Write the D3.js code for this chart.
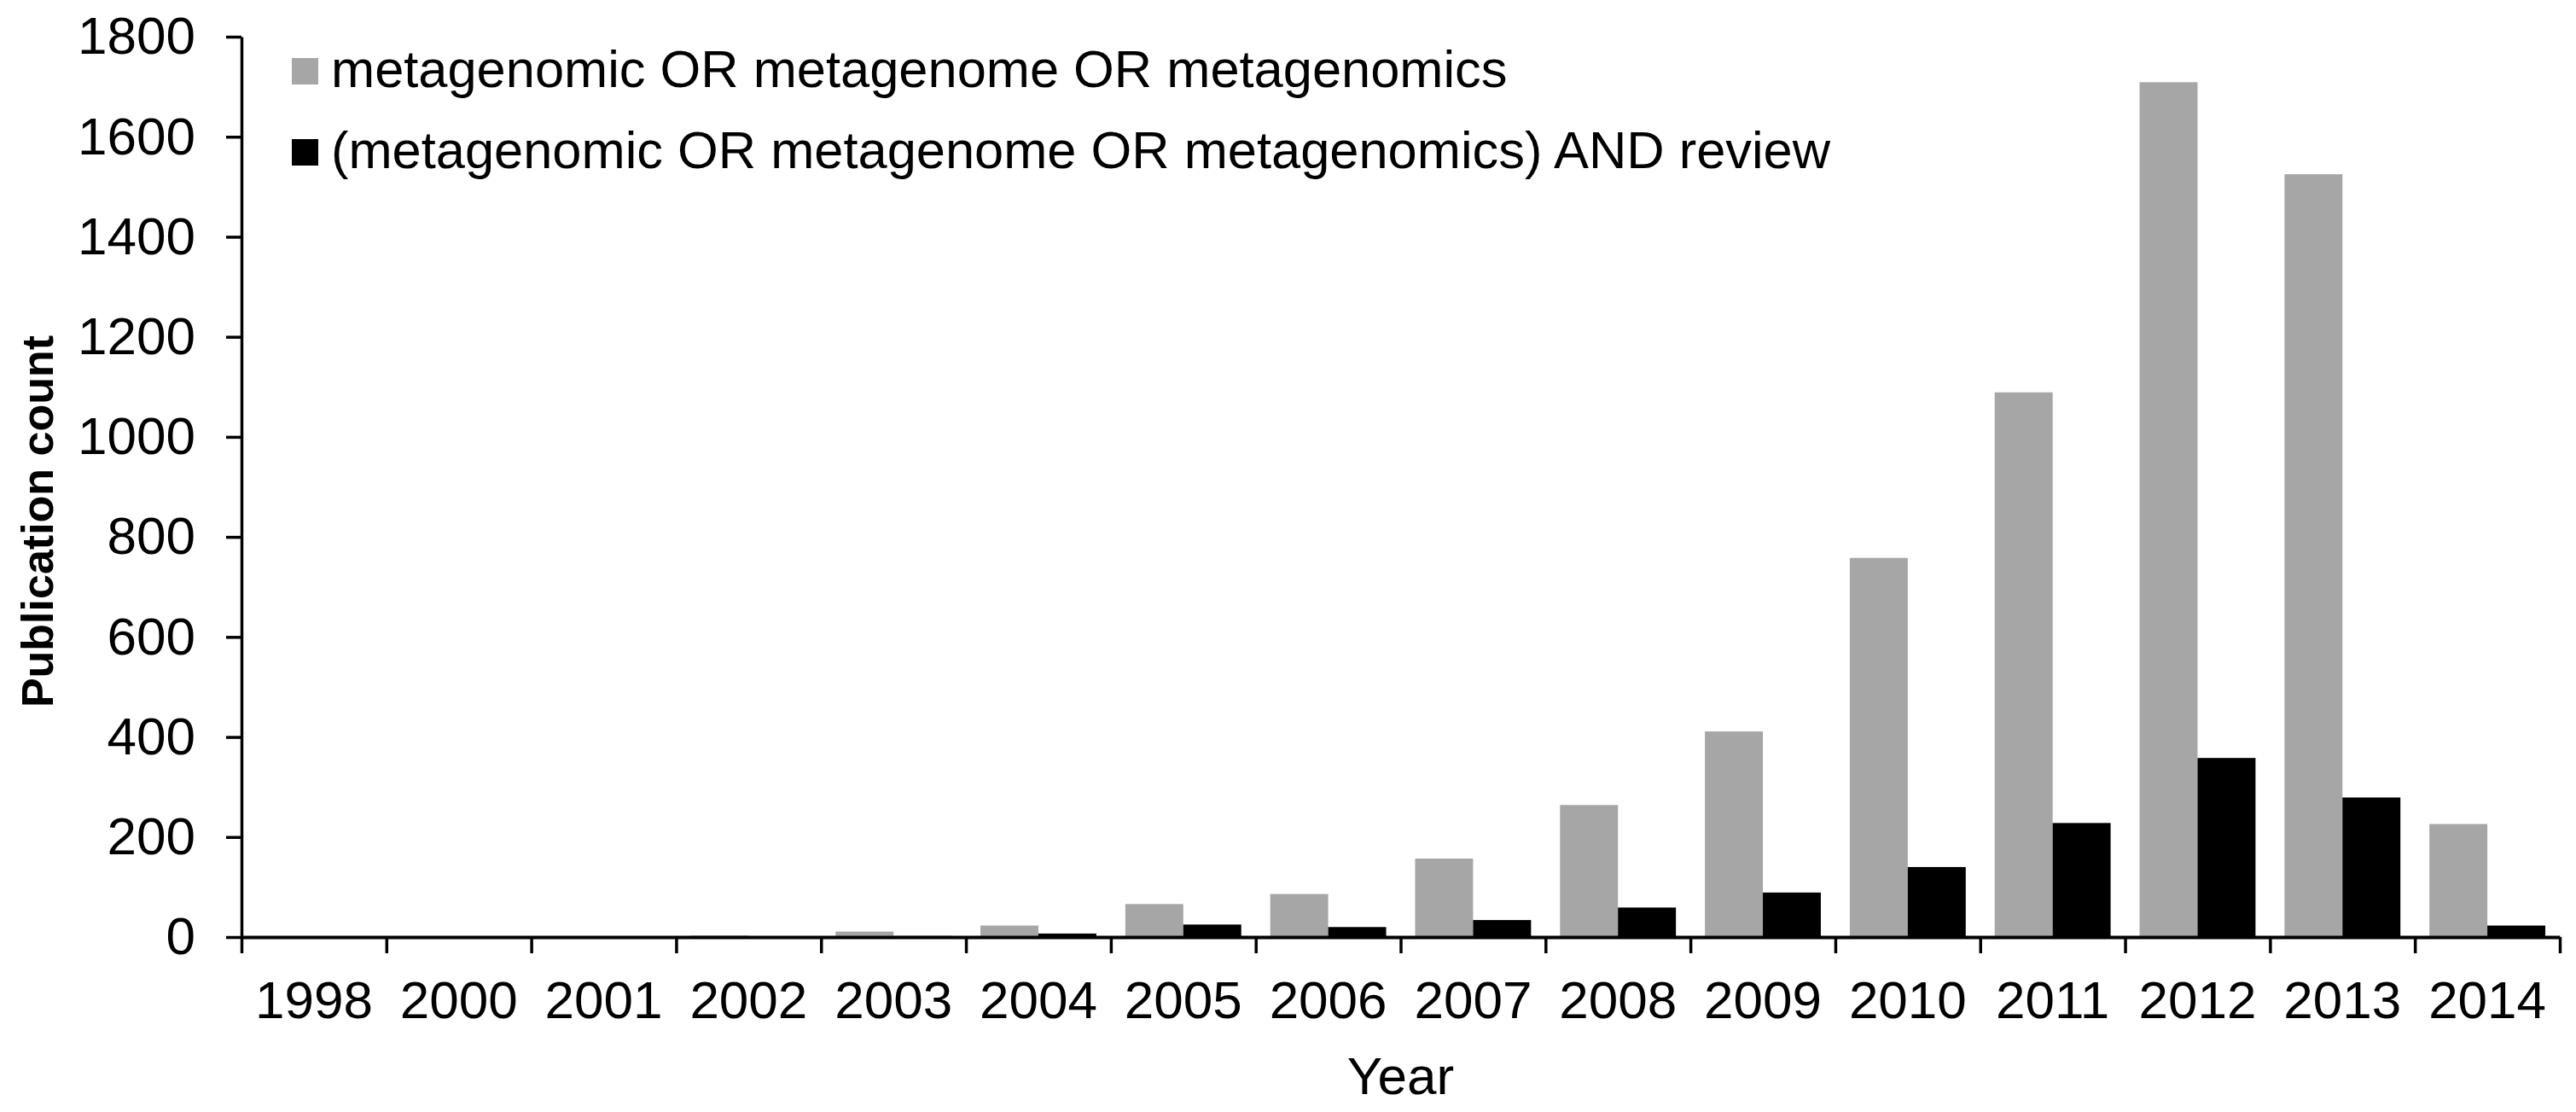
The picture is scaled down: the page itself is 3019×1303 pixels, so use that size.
<!DOCTYPE html>
<html>
<head>
<meta charset="utf-8">
<script src="https://cdn.jsdelivr.net/npm/d3@7"></script>
<style>
  html, body { margin: 0; padding: 0; background: #fff; }
  svg { display: block; }
  text { font-family: "Liberation Sans", Arial, sans-serif; fill: #000; }
</style>
</head>
<body>
<svg id="chart" width="3019" height="1303"></svg>
<script>
const years = ["1998","2000","2001","2002","2003","2004","2005","2006","2007","2008","2009","2010","2011","2012","2013","2014"];
const allPubs = [1, 1, 1, 3, 11, 23, 66, 86, 157, 264, 411, 758, 1089, 1709, 1525, 226];
const reviewPubs = [0, 0, 0, 1, 2, 7, 25, 20, 34, 59, 89, 140, 228, 358, 279, 23];
const seriesNames = ["metagenomic OR metagenome OR metagenomics",
                     "(metagenomic OR metagenome OR metagenomics) AND review"];
const seriesColors = ["#a6a6a6", "#000000"];
const yTicks = [0, 200, 400, 600, 800, 1000, 1200, 1400, 1600, 1800];
const xTitle = "Year";
const yTitle = "Publication count";

const svg = d3.select("#chart");
const mLeft = 283, mRight = 3000, mTop = 43, mBottom = 1098;

const x0 = d3.scaleBand().domain(years).range([mLeft, mRight]).paddingInner(0).paddingOuter(0);
const x1 = d3.scaleBand().domain([0, 1]).range([0, x0.bandwidth()]).paddingInner(0).paddingOuter(0.25);
const y = d3.scaleLinear().domain([0, 1800]).range([mBottom, mTop]);
const xb = d3.scaleLinear().domain([0, years.length]).range([mLeft, mRight]);

const data = years.map((yr, i) => ({ year: yr, vals: [allPubs[i], reviewPubs[i]] }));

// bars
const g = svg.append("g");
g.selectAll("g.grp").data(data).join("g")
  .attr("class", "grp")
  .attr("transform", d => `translate(${x0(d.year)},0)`)
  .selectAll("rect").data(d => d.vals.map((v, k) => ({ v, k }))).join("rect")
  .attr("x", d => x1(d.k))
  .attr("width", x1.bandwidth())
  .attr("y", d => y(d.v))
  .attr("height", d => mBottom - y(d.v))
  .attr("fill", d => seriesColors[d.k]);

// y axis
const yAxis = svg.append("g").attr("transform", `translate(${mLeft},0)`)
  .call(d3.axisLeft(y).tickValues(yTicks).tickFormat(d3.format("d")).tickSize(18).tickSizeOuter(0).tickPadding(36));
yAxis.select(".domain").attr("stroke", "#000").attr("stroke-width", 3.5);
yAxis.selectAll(".tick line").attr("stroke", "#000").attr("stroke-width", 3.5);
yAxis.selectAll(".tick text").style("font-size", "62px").attr("font-family", "Liberation Sans, Arial, sans-serif");

// x axis boundary ticks
const xTickAxis = svg.append("g").attr("transform", `translate(0,${mBottom})`)
  .call(d3.axisBottom(xb).tickValues(d3.range(0, years.length + 1)).tickFormat("").tickSize(19).tickSizeOuter(0));
xTickAxis.select(".domain").attr("stroke", "#000").attr("stroke-width", 4);
xTickAxis.selectAll(".tick line").attr("stroke", "#000").attr("stroke-width", 3.5);

// x labels
const xLab = svg.append("g").attr("transform", `translate(0,${mBottom})`)
  .call(d3.axisBottom(x0).tickSize(0).tickPadding(51));
xLab.select(".domain").remove();
xLab.selectAll(".tick text").style("font-size", "62px").attr("font-family", "Liberation Sans, Arial, sans-serif");

// axis titles
svg.append("text").attr("x", (mLeft + mRight) / 2).attr("y", 1282)
  .attr("text-anchor", "middle").style("font-size", "62px").text(xTitle);
svg.append("text").attr("transform", `translate(62,611) rotate(-90)`)
  .attr("text-anchor", "middle").style("font-size", "52px").style("font-weight", "bold").text(yTitle);

// legend
const legend = svg.append("g");
seriesNames.forEach((name, i) => {
  const ly = 68 + i * 95;
  legend.append("rect").attr("x", 342).attr("y", ly).attr("width", 31).attr("height", 31).attr("fill", seriesColors[i]);
  legend.append("text").attr("x", 388).attr("y", ly + 34).style("font-size", "61.4px").text(name);
});
</script>
</body>
</html>
